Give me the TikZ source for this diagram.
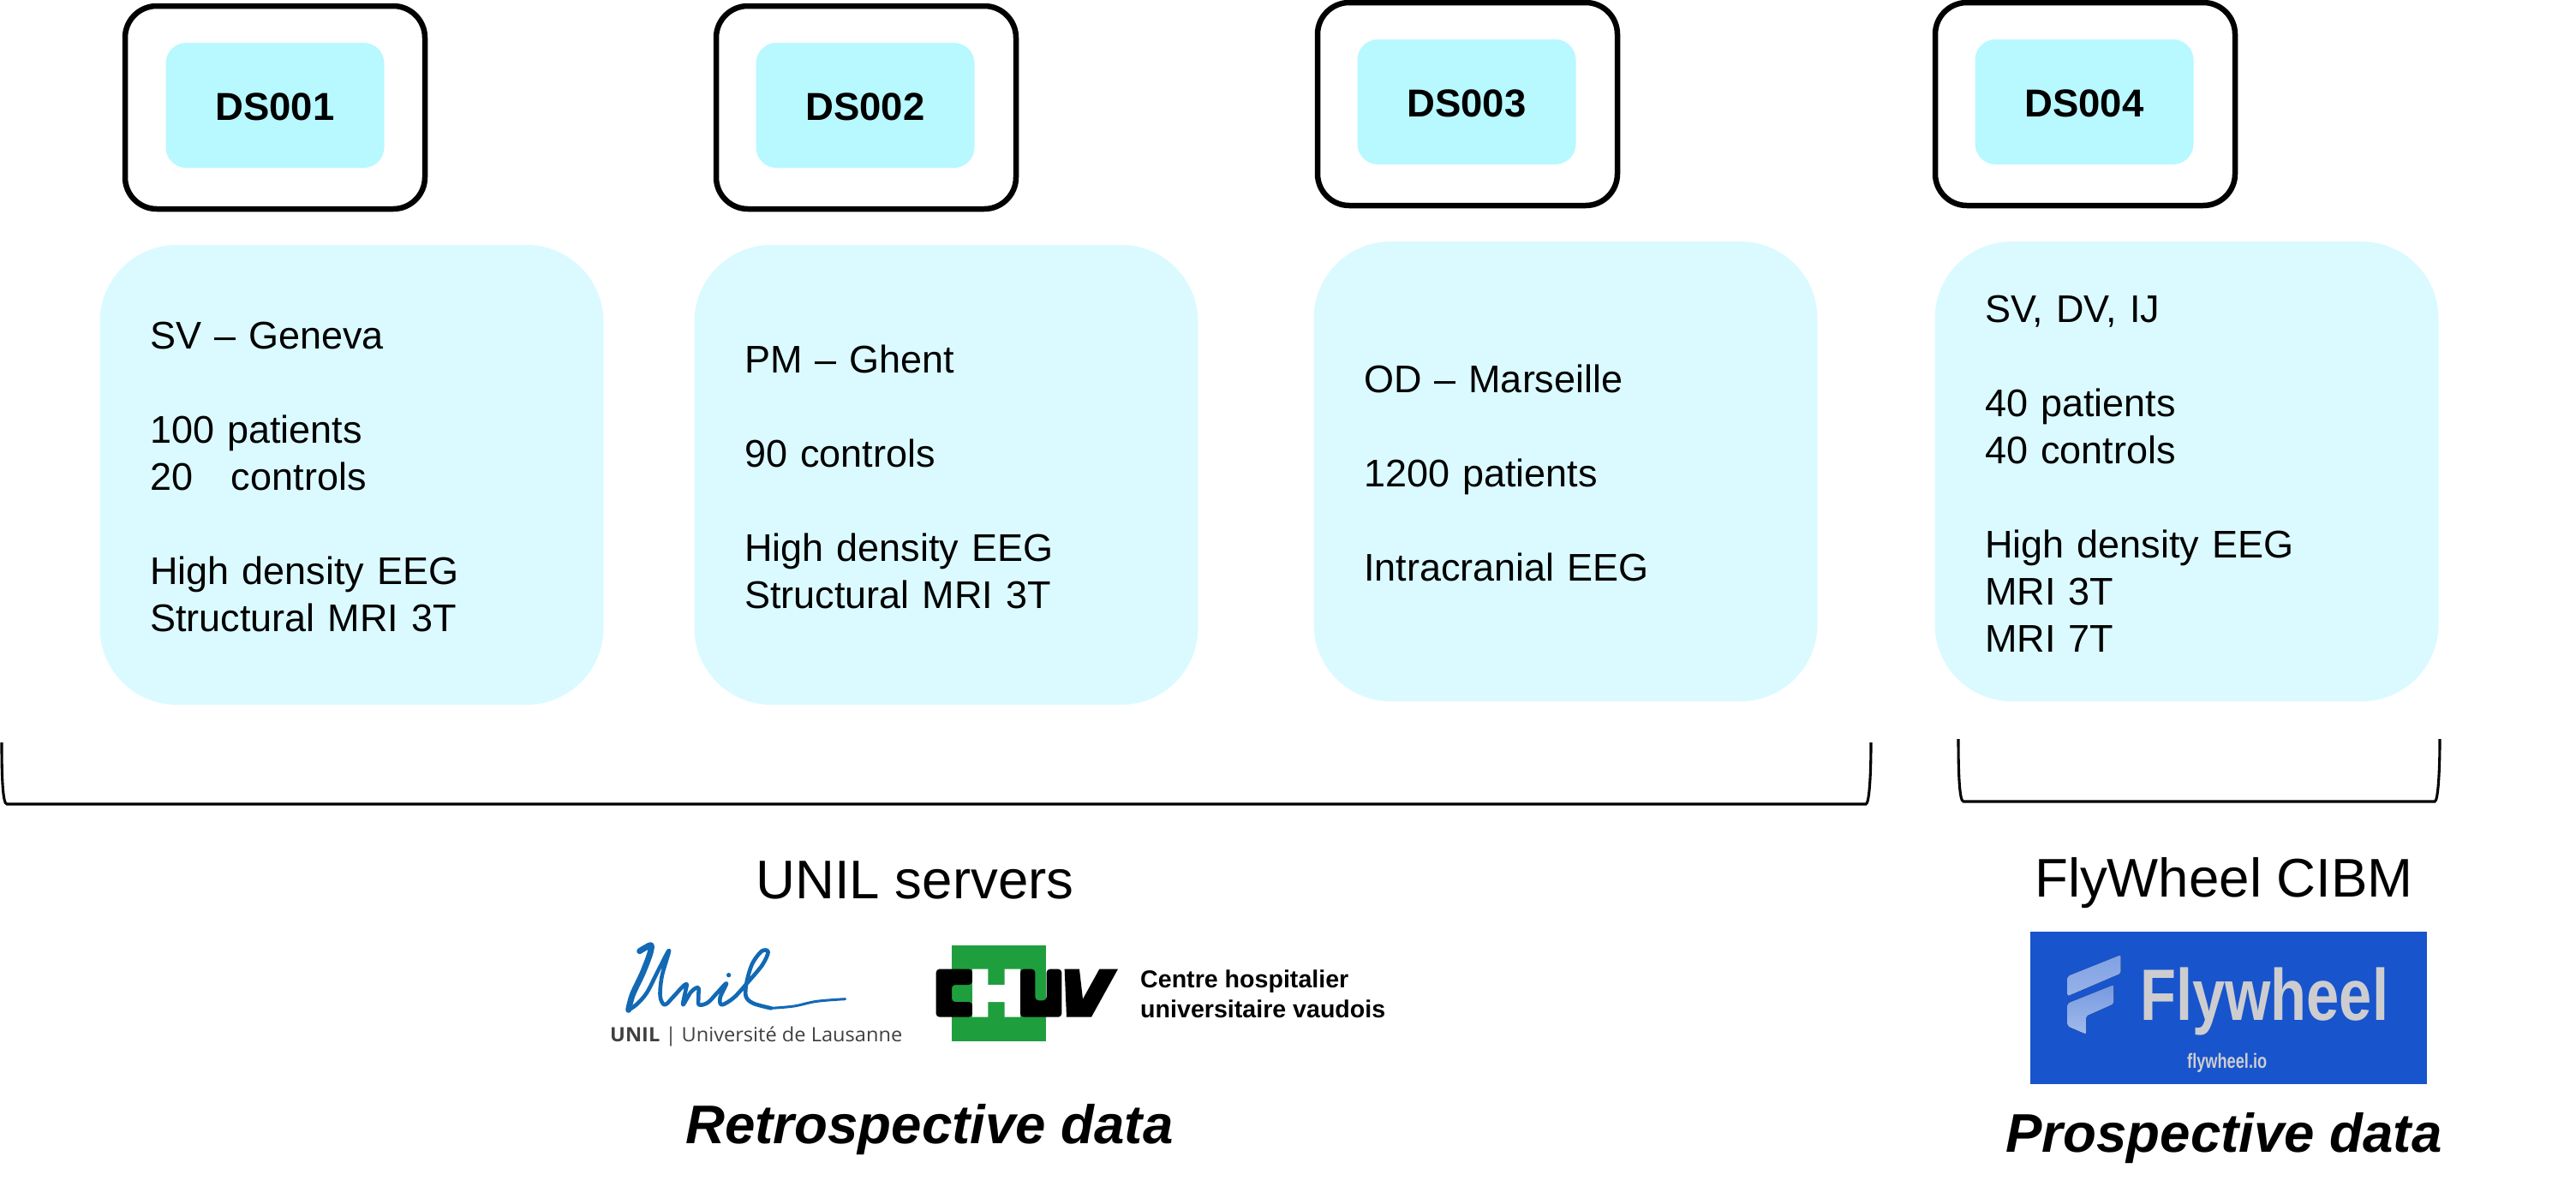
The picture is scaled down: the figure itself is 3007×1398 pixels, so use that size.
\documentclass[tikz,border=0pt]{standalone}
\usepackage{graphicx}
\usepackage{fontspec}
\setmainfont{Liberation Sans}
\newfontfamily\logofont{Open Sans}
\definecolor{infofill}{HTML}{DAFAFF}
\definecolor{idfill}{HTML}{B8F8FF}
\definecolor{unilblue}{HTML}{1269B4}
\definecolor{chuvgreen}{HTML}{1F9E3E}
\definecolor{flyblue}{HTML}{1854CC}
\definecolor{flygrey}{HTML}{CDCDD0}
\tikzset{
  idframe/.style={draw=black,line width=6.5pt,rounded corners=37pt,minimum width=350pt,minimum height=237pt,inner sep=0pt},
  idbox/.style={fill=idfill,rounded corners=24pt,minimum width=255pt,minimum height=146pt,inner sep=0pt,font=\fontsize{45.5}{55}\selectfont\bfseries,execute at begin node={\rule{0pt}{35pt}}},
  infobox/.style={fill=infofill,rounded corners=90pt,minimum width=588pt,minimum height=537pt,inner xsep=58.5pt,inner ysep=0pt,text width=471pt,align=left,font=\fontsize{45}{55}\selectfont,execute at begin node={\rule{0pt}{37pt}}},
  site/.style={anchor=base,inner sep=0pt,font=\fontsize{63.6}{70}\selectfont},
  era/.style={anchor=base,inner sep=0pt,font=\fontsize{63.6}{70}\selectfont\bfseries\itshape},
  bracket/.style={draw=black,line width=3.1pt},
  unilstroke/.style={draw=unilblue,line width=4.6pt,line cap=round,line join=round}
}
\begin{document}
\begin{tikzpicture}[x=1pt,y=-1pt]
\useasboundingbox (0,0) rectangle (3007,1398);
% identifier frames and boxes
\node[idframe] (f1) at (321,125.5) {};
\node[idframe] (f2) at (1011,125.5) {};
\node[idframe] (f3) at (1713,121.5) {};
\node[idframe] (f4) at (2434,121.5) {};
\node[idbox] (d1) at (321,123) {DS001};
\node[idbox] (d2) at (1010,123) {DS002};
\node[idbox] (d3) at (1712,119) {DS003};
\node[idbox] (d4) at (2433,119) {DS004};
% information boxes
\node[infobox] (i1) at (410.5,554.5) {SV – Geneva\\[55pt]100 patients\\20\ \ \ controls\\[55pt]High density EEG\\Structural MRI 3T};
\node[infobox] (i2) at (1104.5,554.5) {PM – Ghent\\[55pt]90 controls\\[55pt]High density EEG\\Structural MRI 3T};
\node[infobox] (i3) at (1827.5,550.5) {OD – Marseille\\[55pt]1200 patients\\[55pt]Intracranial EEG};
\node[infobox] (i4) at (2552.5,550.5) {SV, DV, IJ\\[55pt]40 patients\\40 controls\\[55pt]High density EEG\\MRI 3T\\MRI 7T};
% brackets
\coordinate (b1a) at (2,867);
\coordinate (b1b) at (8,939);
\coordinate (b1c) at (2178,939);
\coordinate (b1d) at (2184,867);
\coordinate (b2a) at (2286,863);
\coordinate (b2b) at (2292,936);
\coordinate (b2c) at (2842,936);
\coordinate (b2d) at (2848,863);
\path[bracket] (b1a) .. controls (2,905) and (3,939) .. (b1b) -- (b1c) .. controls (2182,939) and (2184,905) .. (b1d);
\path[bracket] (b2a) .. controls (2286,900) and (2287,936) .. (b2b) -- (b2c) .. controls (2846,936) and (2848,900) .. (b2d);
% site labels
\node[site] (s1) at (1068,1049) {UNIL servers};
\node[site] (s2) at (2596,1047) {FlyWheel CIBM};
\node[era] (e1) at (1085,1335) {Retrospective data};
\node[era] (e2) at (2596,1345) {Prospective data};
% Unil logo
\begin{scope}[shift={(700pt,-1090pt)},x=0.3333pt,y=-0.3333pt]
\path[unilstroke,line width=7pt] plot[smooth,tension=0.55] coordinates {(140,62) (160,50) (180,42) (176,72) (150,140) (115,215) (101,268)};
\path[unilstroke] plot[smooth,tension=0.55] coordinates {(101,268) (128,250) (165,208) (205,130) (243,60) (218,150) (212,220) (228,250) (258,222) (290,187) (305,178) (300,205) (292,250) (320,205) (345,190) (346,222) (348,250) (378,243) (410,210) (444,175) (422,225) (428,250) (470,225) (520,170) (570,110) (590,65) (568,62) (535,105) (515,170) (512,220) (538,245) (600,262)};
\path[draw=unilblue,line width=3pt,line cap=round] plot[smooth,tension=0.6] coordinates {(600,262) (680,255) (760,238) (860,230)};
\fill[unilblue] (452,146) circle (8);
\end{scope}
\node[anchor=base west,inner sep=0pt,font=\fontsize{23}{26}\selectfont\logofont,text=black!75] (unilname) at (712,1216) {\resizebox{341pt}{\height}{\textbf{UNIL} | Université de Lausanne}};
% CHUV logo
\begin{scope}[shift={(1090pt,-1100pt)},x=0.3333pt,y=-0.3333pt]
\fill[chuvgreen] (63,12) rectangle (394,347);
\fill[black,rounded corners=4pt] (30,95) -- (135,95) -- (135,150) -- (63,150) -- (63,210) -- (135,210) -- (135,263) -- (8,263) -- (8,95) -- cycle;
\fill[white] (135,95) -- (190,95) -- (190,150) -- (248,150) -- (248,95) -- (303,95) -- (303,263) -- (248,263) -- (248,210) -- (190,210) -- (190,263) -- (135,263) -- cycle;
\fill[black,rounded corners=4pt] (303,95) -- (355,95) -- (355,205) -- (395,205) -- (395,95) -- (448,95) -- (448,263) -- (303,263) -- cycle;
\fill[black] (458,95) -- (510,95) -- (522,200) -- (580,95) -- (645,95) -- (552,263) -- (465,263) -- cycle;
\end{scope}
\node[anchor=base west,inner sep=0pt,font=\fontsize{28.6}{35}\selectfont\bfseries] (chuv1) at (1331,1153) {Centre hospitalier};
\node[anchor=base west,inner sep=0pt,font=\fontsize{28.6}{35}\selectfont\bfseries] (chuv2) at (1331,1188) {universitaire vaudois};
% Flywheel logo
\fill[flyblue] (2370,1088) rectangle (2833,1266);
\begin{scope}[shift={(2370pt,-1085pt)},x=0.3333pt,y=-0.3333pt]
\fill[rounded corners=2pt,top color=flyblue!50!white!90!flyblue,bottom color=flyblue!45!white] (130,165) -- (317,90) -- (317,155) -- (130,235) -- cycle;
\fill[rounded corners=2pt,top color=flyblue!55!white!90!flyblue,bottom color=flyblue!40!white] (130,260) -- (292,195) -- (292,262) -- (195,305) -- (195,368) -- (130,340) -- cycle;
\end{scope}
\node[anchor=base west,inner sep=0pt,font=\fontsize{85}{90}\selectfont\bfseries,text=flygrey] (flyname) at (2498,1191) {\resizebox{290pt}{\height}{Flywheel}};
\node[anchor=base west,inner sep=0pt,font=\fontsize{24}{26}\selectfont\bfseries,text=flygrey] (flyurl) at (2553,1247) {\resizebox{93pt}{\height}{flywheel.io}};
\end{tikzpicture}
\end{document}
